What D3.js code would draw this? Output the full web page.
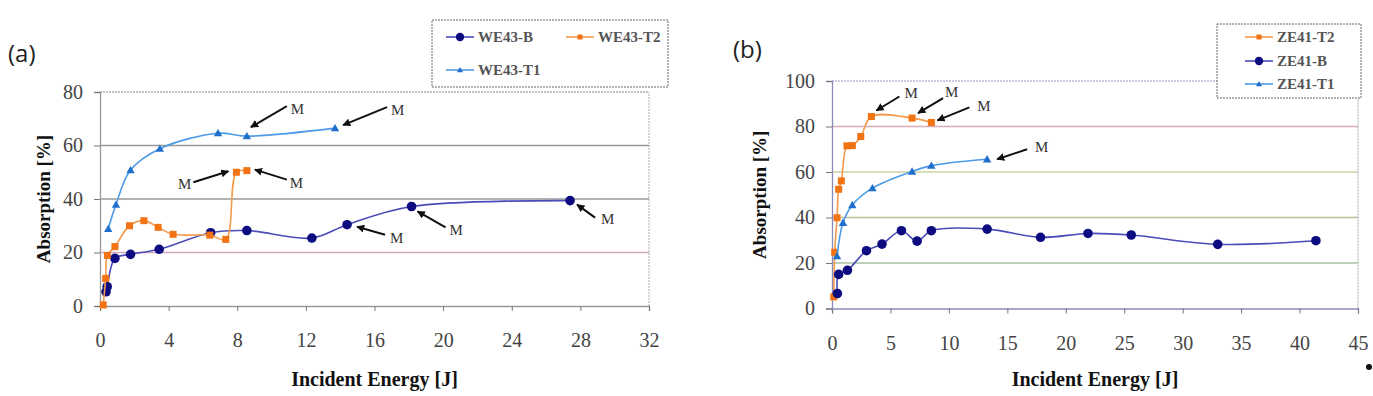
<!DOCTYPE html>
<html>
<head>
<meta charset="utf-8">
<script src="https://cdn.jsdelivr.net/npm/d3@7"></script>
<style>
  body { margin: 0; background: #fff; }
  svg { display: block; }
</style>
</head>
<body>
<div id="chart"></div>
<script>
// Panel (a) data: WE43
const we43B = [[0.35, 5.3], [0.42, 7.2], [0.87, 17.8], [1.78, 19.3], [3.45, 21.2], [6.45, 27.4], [8.56, 28.2], [12.35, 25.4], [14.4, 30.4], [18.16, 37.2], [27.4, 39.4]];
const we43T2 = [[0.19, 0.4], [0.33, 10.3], [0.43, 18.9], [0.87, 22.2], [1.72, 30.0], [2.56, 31.9], [3.39, 29.4], [4.26, 26.8], [6.4, 26.5], [7.33, 24.9], [7.95, 50.0], [8.56, 50.6]];
const we43T1 = [[0.48, 28.8], [0.93, 37.9], [1.78, 50.8], [3.49, 58.8], [6.88, 64.6], [8.56, 63.5], [13.7, 66.5]];
const xTicksA = [0, 4, 8, 12, 16, 20, 24, 28, 32];
const yTicksA = [0, 20, 40, 60, 80];

// Panel (b) data: ZE41
const ze41T2 = [[0.15, 5.1], [0.23, 24.7], [0.43, 39.9], [0.57, 52.4], [0.8, 56.1], [1.28, 71.5], [1.74, 71.6], [2.46, 75.6], [3.37, 84.4], [6.85, 83.7], [8.5, 81.8]];
const ze41B = [[0.46, 6.6], [0.57, 15.0], [1.32, 16.8], [2.95, 25.4], [4.28, 28.3], [5.94, 34.2], [7.28, 29.6], [8.5, 34.2], [13.27, 34.9], [17.84, 31.3], [21.9, 33.0], [25.6, 32.3], [33.0, 28.2], [41.4, 29.8]];
const ze41T1 = [[0.43, 23.0], [0.94, 37.7], [1.74, 45.5], [3.46, 52.9], [6.85, 60.2], [8.5, 62.8], [13.27, 65.6]];
const xTicksB = [0, 5, 10, 15, 20, 25, 30, 35, 40, 45];
const yTicksB = [0, 20, 40, 60, 80, 100];

// "M" marks: which point of which series carries an arrow
const marksA = [["T1", 5], ["T1", 6], ["T2", 10], ["T2", 11], ["B", 8], ["B", 9], ["B", 10]];
const marksB = [["T2", 8], ["T2", 9], ["T2", 10], ["T1", 6]];

// styles
const styles = {
  B:  { line: "#4b4bb8", fill: "#0c0c80", shape: "circle" },
  T2: { line: "#f39a4c", fill: "#f27313", shape: "square" },
  T1: { line: "#4d9ae6", fill: "#1f6fcc", shape: "triangle" }
};
const serif = "'Liberation Serif', 'Times New Roman', serif";

// arrow offsets (head, tail, label) relative to the marked point, in px
const arrowLayoutA = [
  { head: [4, -9], tail: [40, -30], label: [44, -27], anchor: "start" },
  { head: [8, -3], tail: [52, -21], label: [56, -18], anchor: "start" },
  { head: [-8, -1], tail: [-43, 10], label: [-45, 11], anchor: "end" },
  { head: [8, -1], tail: [40, 9], label: [43, 12], anchor: "start" },
  { head: [10, 2], tail: [38, 10], label: [43, 13], anchor: "start" },
  { head: [6, 5], tail: [34, 21], label: [38, 23], anchor: "start" },
  { head: [7, 4], tail: [25, 17], label: [31, 18], anchor: "start" }
];
const arrowLayoutB = [
  { head: [5, -6], tail: [28, -20], label: [33, -24], anchor: "start" },
  { head: [6, -5], tail: [31, -20], label: [33, -26], anchor: "start" },
  { head: [6, -2], tail: [38, -15], label: [46, -17], anchor: "start" },
  { head: [10, 0], tail: [40, -10], label: [48, -13], anchor: "start" }
];

const svg = d3.select("#chart").append("svg")
  .attr("width", 1373)
  .attr("height", 396);

svg.append("defs").append("marker")
  .attr("id", "arrowhead")
  .attr("viewBox", "0 0 10 10")
  .attr("refX", 9).attr("refY", 5)
  .attr("markerWidth", 4).attr("markerHeight", 4)
  .attr("orient", "auto")
  .append("path")
  .attr("d", "M0,0 L10,5 L0,10 z")
  .attr("fill", "#111");

function drawMarker(g, shape, x, y, fill, size) {
  if (shape === "circle") {
    g.append("circle").attr("cx", x).attr("cy", y).attr("r", size * 0.6).attr("fill", fill);
  } else if (shape === "square") {
    g.append("rect").attr("x", x - size / 2).attr("y", y - size / 2)
      .attr("width", size).attr("height", size).attr("fill", fill);
  } else {
    const s = size * 0.6;
    g.append("path")
      .attr("d", `M${x},${y - s} L${x + s},${y + s * 0.75} L${x - s},${y + s * 0.75} Z`)
      .attr("fill", fill);
  }
}

function drawPanel(cfg) {
  const g = svg.append("g");
  const x = d3.scaleLinear().domain(cfg.xDomain).range(cfg.xRange);
  const y = d3.scaleLinear().domain(cfg.yDomain).range(cfg.yRange);

  // gridlines
  cfg.yTicks.forEach((t, i) => {
    if (t === 0) return;
    g.append("line")
      .attr("x1", cfg.xRange[0]).attr("x2", cfg.xRange[1])
      .attr("y1", y(t)).attr("y2", y(t))
      .attr("stroke", cfg.gridColors[i])
      .attr("stroke-width", 1.3)
      .attr("stroke-dasharray", t === cfg.yDomain[1] ? "2,1" : null);
  });
  // right border (dotted)
  g.append("line")
    .attr("x1", cfg.xRange[1]).attr("x2", cfg.xRange[1])
    .attr("y1", cfg.yRange[0]).attr("y2", cfg.yRange[1])
    .attr("stroke", "#aaa").attr("stroke-dasharray", "2,1");

  // axes
  const xAxis = g.append("g")
    .attr("transform", `translate(0,${cfg.yRange[0]})`)
    .call(d3.axisBottom(x).tickValues(cfg.xTicks).tickSize(5).tickPadding(22));
  const yAxis = g.append("g")
    .attr("transform", `translate(${cfg.xRange[0]},0)`)
    .call(d3.axisLeft(y).tickValues(cfg.yTicks).tickSize(6).tickPadding(11));
  [xAxis, yAxis].forEach(ax => {
    ax.attr("font-family", null).style("font-family", serif);
    ax.select(".domain").attr("stroke", cfg.axisColor).attr("stroke-width", 1.3);
    ax.selectAll(".tick line").attr("stroke", "#777");
    ax.selectAll(".tick text")
      .style("font-family", serif)
      .style("font-size", "20px")
      .attr("fill", "#444");
  });

  // series
  const line = d3.line()
    .x(d => x(d[0]))
    .y(d => y(d[1]))
    .curve(d3.curveCatmullRom.alpha(0.5));
  cfg.series.forEach(s => {
    const st = styles[s.key];
    g.append("path")
      .datum(s.data)
      .attr("fill", "none")
      .attr("stroke", st.line)
      .attr("stroke-width", 1.6)
      .attr("d", line);
    s.data.forEach(d => drawMarker(g, st.shape, x(d[0]), y(d[1]), st.fill, s.key === "B" ? 8 : 7));
  });

  // M annotations
  cfg.marks.forEach((m, i) => {
    const s = cfg.series.find(q => q.key === m[0]);
    const p = s.data[m[1]];
    const px = x(p[0]), py = y(p[1]);
    const lay = cfg.layout[i];
    g.append("line")
      .attr("x1", px + lay.tail[0]).attr("y1", py + lay.tail[1])
      .attr("x2", px + lay.head[0]).attr("y2", py + lay.head[1])
      .attr("stroke", "#111").attr("stroke-width", 2)
      .attr("marker-end", "url(#arrowhead)");
    g.append("text")
      .attr("x", px + lay.label[0]).attr("y", py + lay.label[1])
      .attr("dy", "0.35em")
      .attr("text-anchor", lay.anchor)
      .style("font-family", serif)
      .attr("font-size", 15)
      .attr("fill", "#333")
      .text("M");
  });

  // axis titles
  const cx = (cfg.xRange[0] + cfg.xRange[1]) / 2;
  g.append("text")
    .attr("x", cx).attr("y", 386)
    .attr("text-anchor", "middle")
    .style("font-family", serif)
    .attr("font-weight", "bold")
    .attr("font-size", 20)
    .attr("fill", "#111")
    .text("Incident Energy [J]");
  const cy = (cfg.yRange[0] + cfg.yRange[1]) / 2;
  g.append("text")
    .attr("transform", `translate(${cfg.yTitleX},${cy}) rotate(-90)`)
    .attr("text-anchor", "middle")
    .style("font-family", serif)
    .attr("font-weight", "bold")
    .attr("font-size", 19)
    .attr("fill", "#111")
    .text("Absorption [%]");

  // panel label
  g.append("text")
    .attr("x", cfg.tag[0]).attr("y", cfg.tag[1])
    .attr("font-family", "Open Sans, sans-serif")
    .attr("font-size", 24)
    .attr("fill", "#222")
    .text(cfg.tagText);

  // legend
  const lg = g.append("g");
  lg.append("rect")
    .attr("x", cfg.legendBox[0]).attr("y", cfg.legendBox[1])
    .attr("width", cfg.legendBox[2]).attr("height", cfg.legendBox[3])
    .attr("fill", "#fff")
    .attr("stroke", "#666").attr("stroke-dasharray", "2,1");
  cfg.legendItems.forEach(it => {
    const st = styles[it.key];
    lg.append("line")
      .attr("x1", it.pos[0]).attr("x2", it.pos[0] + 28)
      .attr("y1", it.pos[1]).attr("y2", it.pos[1])
      .attr("stroke", st.line).attr("stroke-width", 1.6);
    drawMarker(lg, st.shape, it.pos[0] + 14, it.pos[1], st.fill, it.key === "B" ? 7 : 5);
    lg.append("text")
      .attr("x", it.pos[0] + 32).attr("y", it.pos[1])
      .attr("dy", "0.35em")
      .style("font-family", serif)
      .attr("font-weight", "bold")
      .attr("font-size", 15)
      .attr("fill", "#555")
      .text(it.label);
  });
}

drawPanel({
  xDomain: [0, 32], xRange: [100, 649],
  yDomain: [0, 80], yRange: [306, 92],
  xTicks: xTicksA, yTicks: yTicksA,
  gridColors: ["#888", "#d2a9bb", "#999", "#999", "#aaa"],
  axisColor: "#999",
  series: [{ key: "B", data: we43B }, { key: "T2", data: we43T2 }, { key: "T1", data: we43T1 }],
  marks: marksA, layout: arrowLayoutA,
  yTitleX: 50,
  tag: [8, 62], tagText: "(a)",
  legendBox: [432, 20, 236, 67],
  legendItems: [
    { key: "B", pos: [446, 37], label: "WE43-B" },
    { key: "T2", pos: [566, 37], label: "WE43-T2" },
    { key: "T1", pos: [446, 70], label: "WE43-T1" }
  ]
});

drawPanel({
  xDomain: [0, 45], xRange: [832, 1358],
  yDomain: [0, 100], yRange: [308.5, 81],
  xTicks: xTicksB, yTicks: yTicksB,
  gridColors: ["#88a", "#a9c0a3", "#bcbc96", "#ccd3a3", "#d9aab8", "#b9b9dc"],
  axisColor: "#8a8abb",
  series: [{ key: "T2", data: ze41T2 }, { key: "B", data: ze41B }, { key: "T1", data: ze41T1 }],
  marks: marksB, layout: arrowLayoutB,
  yTitleX: 766,
  tag: [733, 58], tagText: "(b)",
  legendBox: [1217, 24, 144, 74],
  legendItems: [
    { key: "T2", pos: [1245, 37], label: "ZE41-T2" },
    { key: "B", pos: [1245, 61], label: "ZE41-B" },
    { key: "T1", pos: [1245, 84], label: "ZE41-T1" }
  ]
});

// stray dot at the bottom-right corner of the source figure
svg.append("circle").attr("cx", 1369).attr("cy", 367).attr("r", 3).attr("fill", "#111");
</script>
</body>
</html>
